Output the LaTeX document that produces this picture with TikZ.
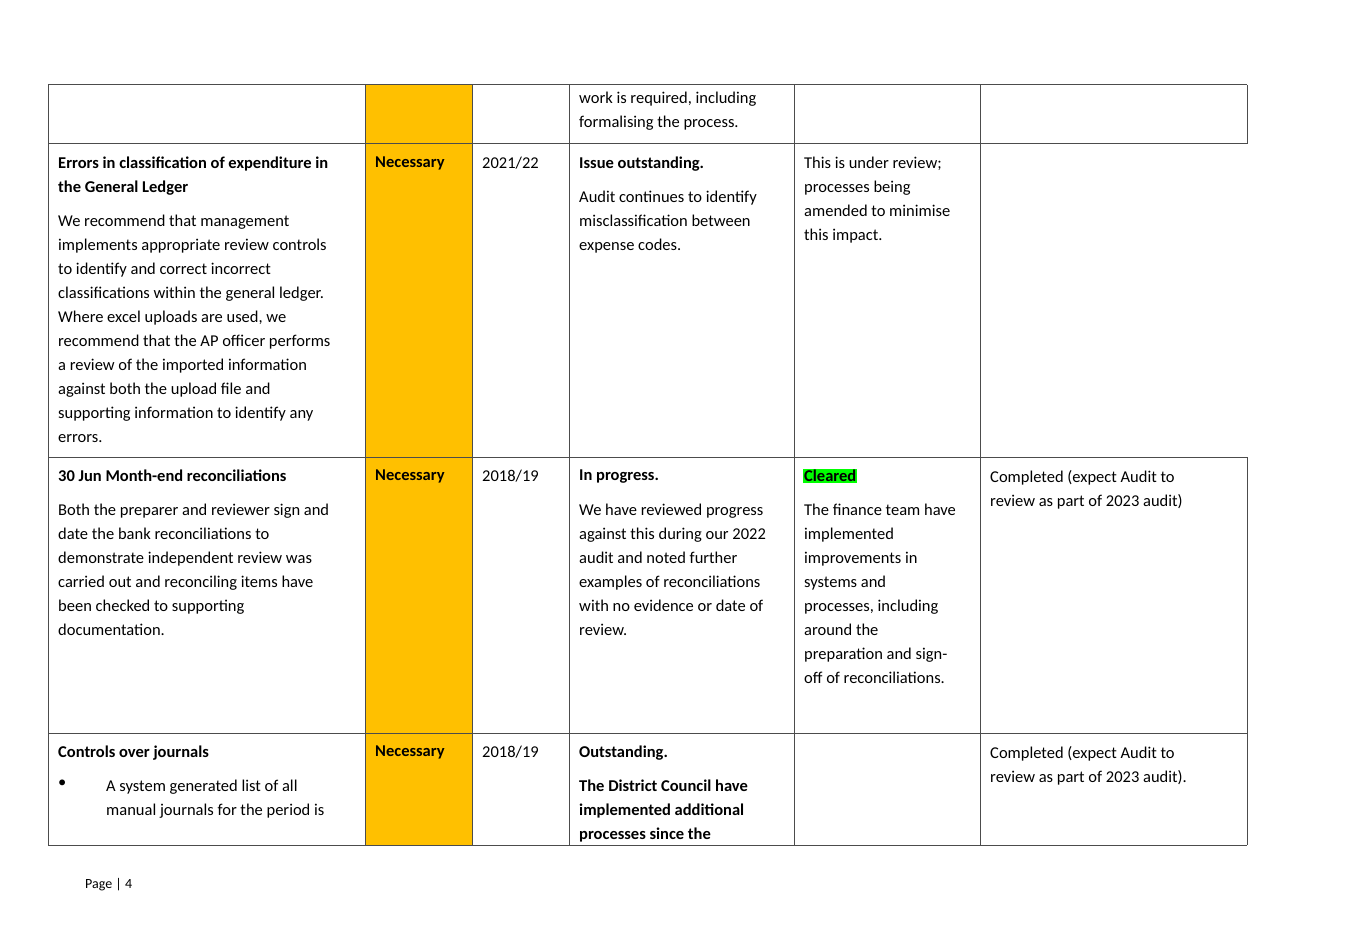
\documentclass[tikz,border=0pt]{standalone}
\usepackage{fontspec}
\setmainfont{Carlito}
\usepackage{xcolor}
\usetikzlibrary{positioning}
\definecolor{ambercell}{HTML}{FFC000}
\definecolor{clearedgreen}{HTML}{00FF00}
\begin{document}
\begin{tikzpicture}[
        x=1pt, y=-1pt,
        txt/.style={anchor=north west, inner sep=0pt, align=left, font=\fontsize{16.5}{24}\selectfont},
        rule/.style={draw=black!70, line width=1pt}
    ]
    \useasboundingbox (0,0) rectangle (1360,939);
    % amber rating column
    \fill[ambercell] (365,85) rectangle (472,845);
    % grid
    \draw[rule] (48,85) -- (1247,85);
    \draw[rule] (48,144) -- (1247,144);
    \draw[rule] (48,457) -- (1247,457);
    \draw[rule] (48,733) -- (1247,733);
    \draw[rule] (48,845) -- (1247,845);
    \foreach \x in {48,365,472,569,794,980}
        \draw[rule] (\x,85) -- (\x,845);
    \draw[rule] (1247,85) -- (1247,144);
    \draw[rule] (1247,457) -- (1247,845);
    % row 1
    \node[txt] (r1d) at (579,92) {work is required, including\\formalising the process.};
    % row 2
    \node[txt] (r2a) at (58,157) {\textbf{Errors in classification of expenditure in}\\\textbf{the General Ledger}};
    \node[txt] (r2a2) at (58,215) {We recommend that management\\implements appropriate review controls\\to identify and correct incorrect\\classifications within the general ledger.\\Where excel uploads are used, we\\recommend that the AP officer performs\\a review of the imported information\\against both the upload file and\\supporting information to identify any\\errors.};
    \node[txt] (r2b) at (375,157) {\textbf{Necessary}};
    \node[txt] (r2c) at (482,157) {2021/22};
    \node[txt] (r2d) at (579,157) {\textbf{Issue outstanding.}};
    \node[txt] (r2d2) at (579,191) {Audit continues to identify\\misclassification between\\expense codes.};
    \node[txt] (r2e) at (804,157) {This is under review;\\processes being\\amended to minimise\\this impact.};
    % row 3
    \node[txt] (r3a) at (58,470) {\textbf{30 Jun Month-end reconciliations}};
    \node[txt] (r3a2) at (58,504) {Both the preparer and reviewer sign and\\date the bank reconciliations to\\demonstrate independent review was\\carried out and reconciling items have\\been checked to supporting\\documentation.};
    \node[txt] (r3b) at (375,470) {\textbf{Necessary}};
    \node[txt] (r3c) at (482,470) {2018/19};
    \node[txt] (r3d) at (579,470) {\textbf{In progress.}};
    \node[txt] (r3d2) at (579,504) {We have reviewed progress\\against this during our 2022\\audit and noted further\\examples of reconciliations\\with no evidence or date of\\review.};
    \node[txt, fill=clearedgreen, inner xsep=1pt, inner ysep=1pt] (r3e) at (803,469) {\textbf{Cleared}};
    \node[txt] (r3e2) at (804,504) {The finance team have\\implemented\\improvements in\\systems and\\processes, including\\around the\\preparation and sign-\\off of reconciliations.};
    \node[txt] (r3f) at (990,470) {Completed (expect Audit to\\review as part of 2023 audit)};
    % row 4
    \node[txt] (r4a) at (58,746) {\textbf{Controls over journals}};
    \node[txt] (r4bul) at (58,780) {\textbullet};
    \node[txt] (r4a2) at (106,780) {A system generated list of all\\manual journals for the period is};
    \node[txt] (r4b) at (375,746) {\textbf{Necessary}};
    \node[txt] (r4c) at (482,746) {2018/19};
    \node[txt] (r4d) at (579,746) {\textbf{Outstanding.}};
    \node[txt] (r4d2) at (579,780) {\textbf{The District Council have}\\\textbf{implemented additional}\\\textbf{processes since the}};
    \node[txt] (r4f) at (990,746) {Completed (expect Audit to\\review as part of 2023 audit).};
    % footer
    \node[txt, font=\fontsize{14}{17}\selectfont] (page) at (85,878) {Page | 4};
\end{tikzpicture}
\end{document}
